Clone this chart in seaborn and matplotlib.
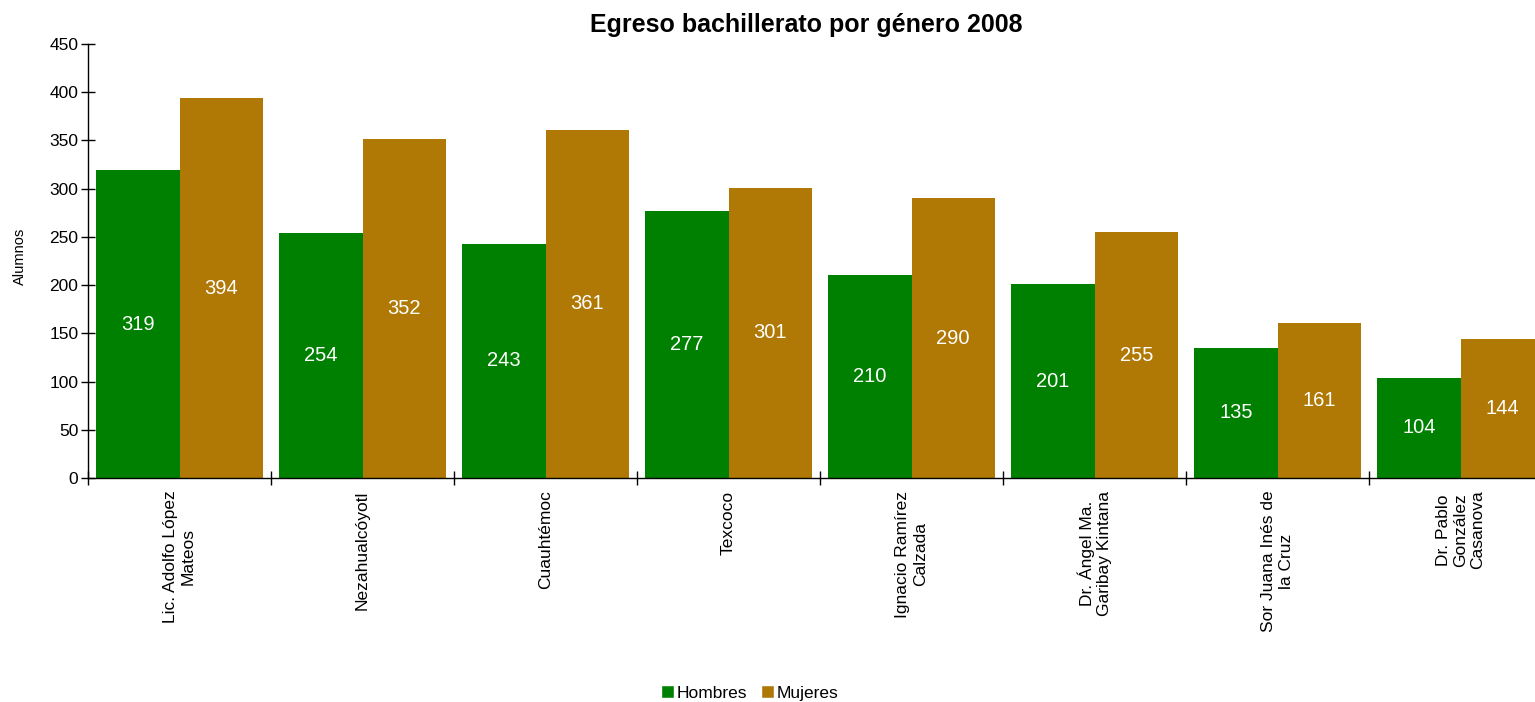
import matplotlib
matplotlib.use("Agg")
import matplotlib.pyplot as plt
import seaborn as sns
import pandas as pd
from matplotlib.patches import Patch
from matplotlib.ticker import FixedLocator

sns.set_style("white")
plt.rcParams['font.family'] = ['Liberation Sans', 'DejaVu Sans']
plt.rcParams['text.color'] = 'black'
plt.rcParams['axes.labelcolor'] = 'black'
plt.rcParams['xtick.color'] = 'black'
plt.rcParams['ytick.color'] = 'black'

# planteles (categorias del eje x)
planteles = ["Lic. Adolfo López\nMateos", "Nezahualcóyotl", "Cuauhtémoc", "Texcoco",
             "Ignacio Ramírez\nCalzada", "Dr. Ángel Ma.\nGaribay Kintana",
             "Sor Juana Inés de\nla Cruz", "Dr. Pablo\nGonzález\nCasanova"]
hombres = [319, 254, 243, 277, 210, 201, 135, 104]
mujeres = [394, 352, 361, 301, 290, 255, 161, 144]
generos = ["Hombres", "Mujeres"]
colores = ["#008000", "#B07804"]

df = pd.DataFrame({
    "Plantel": planteles * 2,
    "Genero": ["Hombres"] * len(planteles) + ["Mujeres"] * len(planteles),
    "Alumnos": hombres + mujeres,
})

fig = plt.figure(figsize=(15.35, 7.02), dpi=100)
ax = fig.add_axes([88 / 1535, 1 - 478 / 702, 1464 / 1535, 434 / 702])

sns.barplot(data=df, x="Plantel", y="Alumnos", hue="Genero", order=planteles,
            hue_order=generos, palette=colores, width=0.912, saturation=1,
            linewidth=0, edgecolor="none", legend=False, ax=ax)

# etiquetas de valor dentro de las barras
for cont in ax.containers:
    for bar in cont:
        h = bar.get_height()
        ax.text(bar.get_x() + bar.get_width() / 2, h / 2, f"{int(h)}",
                ha="center", va="center", color="white", fontsize=14.5)

ax.set_xlim(-0.5, len(planteles) - 0.5)
ax.set_ylim(0, 450)
ax.set_yticks(range(0, 451, 50))
ax.tick_params(axis="y", direction="inout", length=10, width=1, color="black",
               labelsize=12.5, pad=2, left=True)
ax.set_xticks(range(len(planteles)))
ax.set_xticklabels(planteles, rotation=90, ha="center", va="top",
                   multialignment="center", fontsize=12.5)
ax.tick_params(axis="x", which="major", length=0, pad=9)
ax.xaxis.set_minor_locator(FixedLocator([i - 0.5 for i in range(len(planteles) + 1)]))
ax.tick_params(axis="x", which="minor", direction="inout", length=10, width=1,
               color="black", bottom=True)

for s in ["top", "right"]:
    ax.spines[s].set_visible(False)
for s in ["left", "bottom"]:
    ax.spines[s].set_color("black")
    ax.spines[s].set_linewidth(1)

ax.set_xlabel("")
ax.set_ylabel("Alumnos", fontsize=10.5)
ax.yaxis.set_label_coords((27 - 88) / 1464, 0.51)

fig.suptitle("Egreso bachillerato por género 2008", fontsize=18, fontweight="bold",
             x=806 / 1535, y=1 - 13 / 702, va="top")

handles = [Patch(facecolor=c, label=g) for g, c in zip(generos, colores)]
fig.legend(handles=handles, loc="center", bbox_to_anchor=(750 / 1535, 1 - 693 / 702),
           ncol=2, frameon=False, fontsize=12.5, handlelength=0.75, handleheight=0.75,
           handletextpad=0.15, columnspacing=0.8, borderpad=0)

fig.savefig("out.png", dpi=100)
